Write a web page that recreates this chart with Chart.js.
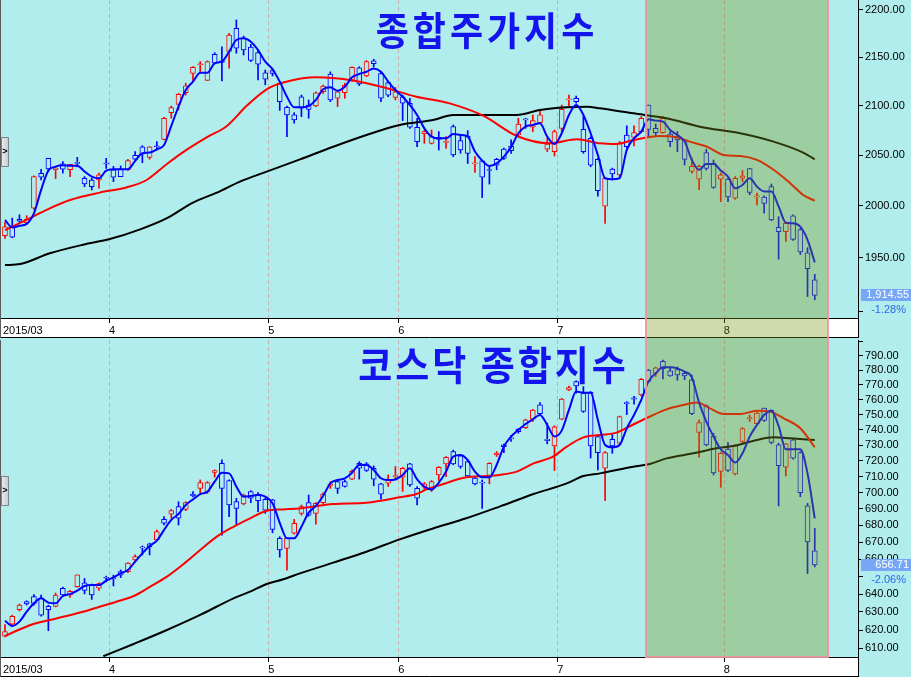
<!DOCTYPE html>
<html>
<head>
<meta charset="utf-8">
<script src="https://cdn.jsdelivr.net/npm/chart.js@4.4.1/dist/chart.umd.min.js"></script>
<style>
html, body { margin: 0; padding: 0; background: #b1eded; }
#wrap { position: relative; width: 911px; height: 680px; overflow: hidden; background: #b1eded; }
canvas { position: absolute; left: 0; }
#kospi { top: 0; }
#kosdaq { top: 340px; }
</style>
</head>
<body>
<div id="wrap">
  <canvas id="kospi" width="911" height="340"></canvas>
  <canvas id="kosdaq" width="911" height="340"></canvas>
</div>
<script>
// trading days from 2015/03 to 2015/08/20, one entry per day
const firstLabel = '2015/03'
const monthStart = [14, 36, 54, 76, 99]   // index of first trading day of each month
const monthLabels = ['4', '5', '6', '7', '8']
const highlightFrom = 88.66
const highlightTo = 113.83

// 종합주가지수 (KOSPI)
const kospiOpen = [1971,1979.5,1986.9,1983.6,1997.6,2031.9,2046.8,2035.3,2041.1,2035.3,
  2042.6,2026.9,2025.2,2025.2,2042.0,2035.3,2035.9,2035.3,2049.7,2058.3,
  2047.7,2059.3,2065.7,2092.7,2101.2,2113.1,2133.1,2142.1,2125.8,2152.9,
  2146.2,2156.0,2180.5,2169.7,2160.7,2154.7,2133.8,2135.9,2122.9,2098.2,
  2090.4,2109.0,2100.5,2099.5,2114.1,2132.3,2107.4,2113.1,2126.2,2138.9,
  2130.4,2146.1,2133.0,2123.6,2108.4,2109.0,2102.3,2077.9,2071.1,2061.7,
  2067.7,2062.7,2078.5,2064.4,2069.1,2041.0,2044.3,2035.5,2045.7,2055.8,
  2059.0,2070.1,2086.3,2077.9,2082.5,2055.8,2053.4,2076.8,2105.7,2107.4,
  2075.8,2066.7,2045.7,1999.6,2036.0,2030.3,2070.1,2067.7,2073.5,2100.5,
  2076.8,2072.5,2071.1,2068.4,2065.1,2033.6,2026.1,2052.4,2041.6,2026.1,
  2026.1,2007.4,2026.9,2036.6,2008.5,2008.5,2018.7,1979.1,1975.0,1990.3,
  1977.0,1954.7,1929.2]
const kospiHigh = [1984,1988,1991.2,1990.3,2029.2,2035.8,2046.8,2037.6,2043.4,2040.7,
  2047.7,2028.6,2026.9,2032.0,2046.7,2038.6,2039.1,2045.8,2053.4,2059.3,
  2058.3,2063.4,2088.0,2099.5,2112.4,2122.9,2140.3,2145.4,2146.1,2154.7,
  2160.8,2175.0,2189.3,2172.2,2163.5,2157.6,2136.6,2138.4,2124.7,2099.5,
  2092.7,2110.7,2105.6,2114.1,2120.9,2134.7,2114.1,2122.9,2140.0,2140.0,
  2146.5,2147.8,2134.7,2124.7,2118.5,2110.7,2107.3,2087.0,2075.1,2075.1,
  2073.5,2068.4,2080.2,2070.1,2074.5,2048.4,2045.0,2038.2,2046.7,2056.8,
  2065.1,2087.0,2087.0,2090.4,2095.4,2066.7,2075.1,2100.5,2110.7,2109.7,
  2088.7,2068.4,2046.7,2027.9,2037.0,2063.6,2079.3,2079.3,2088.7,2100.5,
  2081.2,2088.7,2073.5,2073.5,2065.7,2046.7,2040.0,2055.8,2045.0,2032.0,
  2026.9,2028.6,2034.6,2036.6,2012.3,2009.7,2021.3,1989.4,1983.0,1991.2,
  1978.0,1959.5,1934.3]
const kospiLow = [1968.5,1969,1982.9,1982.3,1996.5,2025.2,2033.6,2026.6,2032.0,2028.6,
  2038.2,2018.7,2015.4,2017.1,2036.6,2023.6,2028.6,2034.6,2043.3,2042.3,
  2045.8,2055.0,2065.0,2087.0,2095.5,2110.7,2124.7,2135.0,2125.8,2143.1,
  2125.4,2138.4,2154.1,2152.3,2145.4,2126.4,2121.3,2130.4,2095.0,2068.4,
  2082.0,2088.7,2087.0,2098.9,2112.4,2104.0,2099.0,2107.4,2124.7,2120.5,
  2129.7,2140.0,2104.0,2109.0,2105.7,2084.7,2076.8,2058.3,2061.7,2061.0,
  2055.0,2056.7,2048.4,2051.7,2041.6,2032.6,2008.0,2021.2,2035.3,2045.7,
  2051.7,2068.4,2076.8,2073.5,2081.9,2053.4,2049.0,2073.5,2099.0,2102.3,
  2051.7,2038.3,2009.2,1982.8,2025.2,2028.6,2056.8,2059.0,2072.5,2068.4,
  2068.4,2071.8,2058.3,2053.4,2040.0,2032.0,2015.7,2035.0,2017.0,2004.0,
  2004.0,2006.3,2023.6,2010.7,2000.7,1992.8,1985.5,1948.6,1965.6,1966.5,
  1953.0,1913.5,1910.5]
const kospiClose = [1979.5,1969.5,1984.9,1986.8,2028.6,2027.9,2036.2,2037.0,2035.9,2040.7,
  2041.6,2021.3,2018.7,2030.3,2041.0,2027.9,2028.6,2044.4,2045.8,2051.0,
  2058.3,2058.3,2087.0,2097.8,2111.4,2120.2,2139.3,2143.1,2145.4,2143.7,
  2144.5,2173.2,2159.4,2157.6,2146.5,2142.6,2127.0,2133.1,2104.0,2090.4,
  2085.3,2097.2,2096.1,2113.1,2119.9,2105.7,2114.1,2120.9,2139.3,2122.2,
  2145.4,2143.1,2107.4,2110.7,2114.1,2102.3,2077.9,2063.4,2073.5,2068.4,
  2065.7,2063.7,2050.0,2055.0,2051.7,2042.3,2027.9,2034.6,2040.0,2046.7,
  2054.3,2081.2,2085.3,2084.7,2090.4,2061.0,2073.5,2096.1,2106.7,2104.0,
  2053.4,2040.0,2014.7,2026.9,2031.3,2061.8,2058.3,2072.5,2087.0,2075.8,
  2072.5,2087.0,2063.4,2065.1,2045.7,2038.7,2038.7,2036.6,2018.0,2030.3,
  2008.5,2026.9,2029.3,2012.9,2009.7,2002.3,1986.1,1975.0,1983.0,1967.5,
  1955.4,1939.6,1914.55]
const kospiMa5 = [1986.2,1979.0,1980.5,1982.4,1992.6,2015.5,2034.5,2038.4,2039.7,2039.4,
  2039.4,2033.6,2028.6,2026.9,2034.5,2035.9,2035.9,2035.9,2044.1,2051.7,
  2052.4,2055.7,2060.0,2079.2,2098.9,2115.9,2124.6,2133.8,2133.8,2143.5,
  2145.3,2155.9,2168.1,2169.8,2166.3,2157.5,2145.3,2137.4,2124.6,2109.0,
  2098.1,2098.1,2099.4,2105.7,2116.6,2118.7,2115.2,2119.3,2129.0,2132.5,
  2134.8,2138.3,2134.8,2124.6,2115.9,2109.0,2100.5,2090.4,2076.8,2068.4,
  2066.7,2066.7,2071.1,2070.1,2068.4,2053.4,2044.4,2039.1,2041.7,2048.4,
  2057.7,2071.8,2078.5,2080.2,2081.9,2068.4,2061.0,2071.8,2090.4,2100.5,
  2090.4,2071.8,2050.0,2026.9,2025.9,2026.9,2055.1,2066.7,2073.5,2086.0,
  2084.6,2083.6,2075.1,2070.1,2063.4,2045.1,2035.3,2041.1,2041.1,2034.6,
  2028.6,2017.0,2020.3,2026.9,2018.7,2013.9,2013.9,1999.3,1983.6,1983.0,
  1979.7,1967.1,1945.6]
const kospiMa20At = [0,3.9,6.2,9,13.1,16.8,19.6,22.4,25.1,27.9,30.7,33.4,36.2,38.5,43.1,47.7,52.3,56.9,61.5,
  66.2,70.8,75.4,79.1,82.3,84.6,86.9,90.6,92.9,94.7,97.1,99.4,101.7,104,106.3,108.6,110.4,112]
const kospiMa20 = [1976.3,1989.5,1997.5,2005.6,2012.8,2017.9,2025.2,2041.1,2055.1,2067.7,2079.2,2099.5,2116.6,2123.6,
  2129.0,2126.2,2118.7,2109.0,2102.2,2089.4,2069.1,2061.7,2065.7,2061.7,2061.0,2065.0,2069.1,2067.7,2063.4,
  2058.3,2050.0,2049.0,2045.1,2035.3,2022.1,2010.5,2004.9]
const kospiMa60At = [0,2.1,6.2,10.8,14.5,18.7,22.4,26,29.3,32.5,36.2,40.8,45.4,50,54.6,59.2,62,66.2,70.8,
  74,77.7,80.5,82.3,86.9,91.5,96.1,101.7,106.3,110.4,112]
const kospiMa60 = [1943.0,1944.0,1954.2,1962.4,1967.8,1977.1,1987.9,2003.1,2012.8,2023.6,2033.5,2045.7,2058.3,
  2070.1,2080.2,2085.2,2090.4,2090.4,2090.4,2095.4,2098.1,2098.8,2097.1,2092.0,2087.0,2078.5,2071.8,2063.4,
  2052.4,2045.7]
const kospiTicks = [1900, 1950, 2000, 2050, 2100, 2150, 2200]
const kospiChange = -1.28

// 코스닥 종합지수 (KOSDAQ)
const kosdaqOpen = [616.6,623.2,631.3,635.7,638.6,637.7,633.1,633.1,643.3,639.5,
  644.2,646.4,645.1,643.3,649.6,649.3,652.8,652.8,659.6,667.2,
  669.0,671.4,683.7,686.8,691.4,689.7,699.1,702.6,700.6,712.6,
  718.4,707.5,694.4,693.0,700.6,699.1,695.9,695.5,672.3,666.3,
  675.3,687.3,693.8,687.3,693.8,704.4,706.8,706.8,708.4,718.4,
  718.0,715.2,705.4,705.8,710.0,709.6,718.0,702.6,703.3,701.6,
  711.0,718.0,725.8,723.1,719.4,709.0,706.5,709.6,723.9,730.1,
  734.6,740.2,741.4,746.9,756.4,733.8,729.5,746.9,766.4,772.1,
  764.3,764.8,735.5,715.2,733.8,731.2,758.0,761.1,763.0,780.0,
  777.8,786.1,779.5,780.4,777.8,773.3,738.2,755.8,735.9,713.2,
  727.4,711.6,732.3,747.2,743.9,754.2,752.7,730.2,715.9,733.4,
  725.2,691.8,664.9]
const kosdaqHigh = [623.0,628.2,634.4,636.2,639.7,639.5,633.8,640.6,643.9,642.1,
  650.9,648.9,645.7,646.4,650.2,650.8,653.8,658.1,662.5,667.8,
  669.4,677.3,685.3,689.7,694.4,694.4,700.6,707.9,706.8,714.2,
  720.5,707.9,696.5,699.1,701.2,700.0,696.5,695.9,673.3,672.3,
  683.7,692.4,698.5,693.8,699.9,706.8,707.9,707.9,714.2,719.4,
  718.8,716.7,705.8,711.0,716.3,715.8,718.4,703.8,706.3,707.5,
  716.3,722.6,726.8,723.7,720.5,709.6,707.9,718.8,725.8,730.7,
  736.4,740.8,746.9,753.4,757.9,744.3,742.6,760.8,769.1,772.7,
  768.7,765.4,736.5,725.8,737.6,749.0,758.6,762.2,774.3,780.4,
  782.1,787.0,782.1,782.1,778.9,776.6,746.5,756.4,737.6,725.2,
  731.7,730.2,741.4,749.7,751.4,754.2,753.1,731.2,731.2,734.4,
  725.8,693.4,678.2]
const kosdaqLow = [616.2,621.8,630.5,633.8,633.8,627.6,619.6,632.8,638.6,638.1,
  643.9,640.1,637.0,642.0,646.9,644.6,649.4,652.2,658.5,662.5,
  662.5,671.0,680.3,684.3,680.3,688.9,697.5,699.5,699.5,709.6,
  674.2,685.3,680.3,692.4,693.8,688.3,687.3,675.6,661.2,653.7,
  674.8,686.2,685.6,680.8,693.2,702.6,699.5,703.4,708.0,708.4,
  713.2,704.2,695.9,703.8,708.4,700.7,703.8,692.4,701.6,700.7,
  707.5,710.0,717.4,715.2,709.6,704.8,690.3,705.4,722.7,725.2,
  732.3,737.7,740.8,745.4,749.9,730.8,713.8,746.5,766.0,764.3,
  751.4,721.7,714.2,695.0,724.7,730.2,749.9,756.8,762.3,771.7,
  775.6,774.0,775.6,773.0,773.4,749.9,722.3,729.5,711.0,703.3,
  713.2,711.0,731.7,745.4,743.3,745.4,730.8,691.8,710.4,721.0,
  697.5,651.7,655.5]
const kosdaqClose = [619.1,627.6,633.8,634.4,634.8,628.2,631.3,639.5,639.5,641.5,
  650.9,642.0,639.5,646.0,649.0,648.7,650.8,657.7,661.5,666.6,
  667.4,676.3,681.3,688.9,684.3,693.8,697.9,706.2,706.2,713.8,
  702.6,692.4,690.3,698.5,696.5,695.0,689.3,677.6,665.4,672.3,
  681.3,691.4,686.2,693.4,699.1,705.2,702.6,703.8,713.2,715.2,
  713.8,708.4,699.1,707.9,710.6,715.2,704.8,696.5,705.4,706.8,
  715.8,722.2,718.0,716.3,710.4,705.4,705.8,718.4,724.7,729.0,
  734.0,738.7,746.5,753.0,750.6,732.9,741.8,760.2,768.1,769.1,
  752.0,729.5,725.2,725.2,729.5,748.6,757.1,760.2,773.7,772.3,
  781.6,781.0,776.0,776.7,776.0,750.6,744.7,730.1,712.2,724.7,
  713.8,729.5,740.8,748.0,751.0,746.0,731.7,716.8,730.8,721.6,
  700.0,670.2,656.71]
const kosdaqMa5 = [625.1,622.2,624.6,630.1,634.8,637.6,635.2,634.8,638.9,640.0,
  641.9,644.6,645.1,645.1,647.6,649.5,651.8,653.7,658.6,663.4,
  667.7,670.9,677.3,683.3,686.9,692.4,695.8,699.1,700.6,706.8,
  712.4,712.0,703.7,697.5,697.9,698.5,697.5,693.4,681.6,672.3,
  672.3,679.2,687.7,691.8,697.9,705.7,707.8,708.9,712.4,717.3,
  717.3,714.1,708.9,707.8,708.2,711.0,715.2,708.2,703.7,702.0,
  706.2,713.1,722.6,723.6,720.4,713.1,709.5,709.5,717.3,729.0,
  735.5,739.8,743.7,746.8,749.7,743.1,735.5,739.4,753.0,765.3,
  764.6,764.6,746.4,730.1,728.6,730.1,740.9,749.7,759.7,772.1,
  777.8,781.9,781.9,781.2,778.9,775.0,757.9,745.3,735.5,727.3,
  723.6,718.8,724.7,735.5,743.1,749.7,752.5,742.4,727.3,727.3,
  727.3,712.0,684.3]
const kosdaqMa20At = [0,2.1,3.9,6.2,8.5,10.8,13.1,15.4,17.8,20.1,22.4,24.7,27,29.3,31.6,33.9,36.2,38.5,40.8,
  45.4,50,54.6,56.9,58.3,60.2,63.8,66.6,68.4,70.8,73.1,75.8,77.7,80,82.3,84.6,86.9,88.7,91.5,93.8,95.7,
  97.5,99.4,101.7,104,105.8,107.7,110,112]
const kosdaqMa20 = [616.7,620.4,623.3,625.5,627.7,630.1,632.9,635.7,638.9,644.2,649.9,657.2,665.4,673.3,679.2,
  684.3,688.9,689.7,690.3,693.0,693.8,697.1,699.1,702.0,704.7,709.5,710.3,711.0,713.1,718.3,722.6,729.0,
  735.0,736.5,738.1,743.4,747.5,753.4,756.3,757.9,754.1,750.3,750.3,752.5,751.9,747.5,740.9,728.6]
const kosdaqMa60At = [13.6,17.8,22.4,27,31.6,33.9,36.2,38.5,40.8,45.4,50,54.6,59.2,63.8,68.4,73.1,77.7,80,
  82.3,86.9,89.2,91.5,95.2,98.4,100.7,104,106.3,108.6,112]
const kosdaqMa60 = [605.8,612.4,620.0,628.3,637.6,641.4,645.7,648.4,651.8,658.0,664.4,671.7,678.2,684.3,691.4,
  699.1,705.7,710.3,712.0,716.2,717.9,721.5,724.7,727.9,729.4,733.3,735.0,734.4,733.3]
const kosdaqTicks = [610, 620, 630, 640, 650, 660, 670, 680, 690, 700, 710, 720, 730, 740, 750, 760, 770, 780, 790, 800]
const kosdaqChange = -2.06

const BG = '#b1eded'
const UP = '#ff0000'
const DOWN = '#0000ff'
const FONT = 'Arial, "Liberation Sans", sans-serif'

function money(v) {
    return v.toLocaleString('en-US', {minimumFractionDigits: 2, maximumFractionDigits: 2})
}

function decor(o) {
    return {
        id: 'decor',
        beforeDraw(chart) {
            const {ctx, chartArea: a, width, height} = chart
            ctx.save()
            ctx.fillStyle = BG
            ctx.fillRect(0, 0, width, height)
            ctx.fillStyle = '#fff'
            ctx.fillRect(0, a.bottom, a.right, 19)
            if (o.whiteBelow) ctx.fillRect(0, a.bottom + 20, width, height - a.bottom - 20)
            ctx.restore()
        },
        beforeDatasetsDraw(chart) {
            const {ctx, chartArea: a, scales: {x}} = chart
            ctx.save()
            ctx.lineWidth = 1
            ctx.strokeStyle = '#c6b0b0'
            ctx.setLineDash([4, 3])
            monthStart.forEach(m => {
                const px = Math.round(x.getPixelForValue(m + 0.4)) + 0.5
                ctx.beginPath()
                ctx.moveTo(px, a.top)
                ctx.lineTo(px, a.bottom)
                ctx.stroke()
            })
            ctx.setLineDash([])
            ctx.strokeStyle = '#000'
            ctx.beginPath()
            monthStart.forEach(m => {
                const px = Math.round(x.getPixelForValue(m + 0.4)) + 0.5
                ctx.moveTo(px, a.bottom)
                ctx.lineTo(px, a.bottom + 5)
            })
            ctx.moveTo(0, a.bottom + 0.5)
            ctx.lineTo(a.right, a.bottom + 0.5)
            ctx.moveTo(0, a.bottom + 19.5)
            ctx.lineTo(a.right + 1, a.bottom + 19.5)
            ctx.moveTo(a.right + 0.5, a.bottom)
            ctx.lineTo(a.right + 0.5, a.bottom + 19.5)
            ctx.stroke()
            ctx.strokeStyle = '#5c5c5c'
            ctx.beginPath()
            ctx.moveTo(0.5, 0)
            ctx.lineTo(0.5, a.bottom + 20)
            ctx.stroke()
            ctx.restore()
        },
        afterDatasetsDraw(chart) {
            const {ctx, chartArea: a, scales: {x}, height} = chart
            const x0 = x.getPixelForValue(highlightFrom)
            const x1 = x.getPixelForValue(highlightTo)
            const bottom = o.shadeRow ? height : a.bottom
            ctx.save()
            ctx.fillStyle = 'rgba(120,150,20,0.35)'
            ctx.fillRect(x0, 0, x1 - x0, bottom)
            ctx.strokeStyle = 'rgba(240,150,160,0.9)'
            ctx.lineWidth = 2
            ctx.beginPath()
            ctx.moveTo(x0, 0)
            ctx.lineTo(x0, bottom)
            if (!o.shadeRow) ctx.lineTo(x1, bottom)
            else ctx.moveTo(x1, bottom)
            ctx.lineTo(x1, 0)
            ctx.stroke()

            ctx.fillStyle = '#1414ec'
            ctx.font = 'bold ' + o.titleSize + 'px "Noto Sans CJK KR"'
            ctx.letterSpacing = o.titleSpacing + 'px'
            ctx.textAlign = 'center'
            ctx.textBaseline = 'middle'
            ctx.translate(o.titleX + o.titleSpacing / 2, o.titleY)
            ctx.scale(1, 1.08)
            ctx.fillText(o.title, 0, 0)
            ctx.restore()
        },
        afterDraw(chart) {
            const {ctx, scales: {y}, width} = chart
            const yc = Math.round(y.getPixelForValue(o.last))
            ctx.save()
            ctx.fillStyle = '#78a6f6'
            ctx.fillRect(861, yc - 6, width - 861, 12)
            ctx.fillStyle = '#fff'
            ctx.font = '11px ' + FONT
            ctx.textAlign = 'right'
            ctx.textBaseline = 'middle'
            ctx.fillText(money(o.last), 909, yc)
            ctx.fillStyle = '#2a68ee'
            ctx.fillText(o.change.toFixed(2) + '%', 906, yc + 14.5)

            // collapse tab on the left edge
            const g = ctx.createLinearGradient(0, 0, 9, 0)
            g.addColorStop(0, '#f4f4f4')
            g.addColorStop(1, '#c4c8cc')
            ctx.fillStyle = g
            ctx.strokeStyle = '#7a8590'
            ctx.lineWidth = 1
            ctx.beginPath()
            ctx.rect(1.5, o.tabY + 0.5, 7, 29)
            ctx.fill()
            ctx.stroke()
            ctx.fillStyle = '#000'
            ctx.font = 'bold 9px ' + FONT
            ctx.textAlign = 'center'
            ctx.fillText('>', 5, o.tabY + 15)
            ctx.restore()
        }
    }
}

function drawPanel(id, d, o) {
    const idx = d.open.map((_, i) => i)
    const colors = d.close.map((c, i) => c >= d.open[i] ? UP : DOWN)
    const tickVals = [-0.28].concat(monthStart.map(m => m + 0.4))
    const tickText = [firstLabel].concat(monthLabels)

    new Chart(document.getElementById(id), {
        type: 'bar',
        data: {
            datasets: [{
                type: 'line',
                data: d.ma5.map((v, i) => ({x: i, y: v})),
                borderColor: '#0000ff',
                borderWidth: 2,
                pointRadius: 0,
                cubicInterpolationMode: 'monotone',
                order: 1
            }, {
                type: 'line',
                data: d.ma20At.map((v, k) => ({x: v, y: d.ma20[k]})),
                borderColor: '#ff0000',
                borderWidth: 2,
                pointRadius: 0,
                cubicInterpolationMode: 'monotone',
                order: 2
            }, {
                type: 'line',
                data: d.ma60At.map((v, k) => ({x: v, y: d.ma60[k]})),
                borderColor: '#000000',
                borderWidth: 2,
                pointRadius: 0,
                cubicInterpolationMode: 'monotone',
                order: 3
            }, {
                // bodies, hollow
                data: idx.map(i => ({x: i, y: [d.open[i], d.close[i]]})),
                backgroundColor: BG,
                borderColor: colors,
                borderWidth: 1,
                borderSkipped: false,
                barThickness: 5,
                minBarLength: 1,
                grouped: false,
                order: 4
            }, {
                // wicks
                data: idx.map(i => ({x: i, y: [d.low[i], d.high[i]]})),
                backgroundColor: colors,
                borderWidth: 0,
                barThickness: 1,
                grouped: false,
                order: 5
            }]
        },
        options: {
            responsive: false,
            animation: false,
            events: [],
            devicePixelRatio: 1,
            layout: {padding: {left: 0, top: 0, right: 0, bottom: o.padBottom}},
            plugins: {legend: {display: false}, tooltip: {enabled: false}},
            scales: {
                x: {
                    type: 'linear',
                    min: -0.69,
                    max: 117.98,
                    offset: false,
                    grid: {display: false, drawTicks: false},
                    border: {display: false},
                    ticks: {
                        autoSkip: false,
                        maxRotation: 0,
                        align: 'start',
                        padding: 6,
                        color: '#000',
                        font: {family: FONT, size: 11},
                        callback: (v, i) => tickText[i]
                    },
                    afterBuildTicks: s => { s.ticks = tickVals.map(v => ({value: v})) },
                    afterFit: s => { s.height = 20; s.paddingLeft = 0; s.paddingRight = 0 }
                },
                y: {
                    type: 'logarithmic',
                    position: 'right',
                    min: o.min,
                    max: o.max,
                    grid: {drawOnChartArea: false, drawTicks: true, tickLength: 5, tickColor: '#000', color: '#000'},
                    border: {display: true, color: '#000', width: 1},
                    ticks: {
                        autoSkip: false,
                        padding: 2,
                        color: '#000',
                        font: {family: FONT, size: 11},
                        callback: v => o.hide.includes(v) ? '' : v.toFixed(2)
                    },
                    afterBuildTicks: s => { s.ticks = d.ticks.map(v => ({value: v})) },
                    afterFit: s => { s.width = 53; s.paddingTop = 0; s.paddingBottom = 0 }
                }
            }
        },
        plugins: [decor(o)]
    })
}

drawPanel('kospi', {
    open: kospiOpen, high: kospiHigh, low: kospiLow, close: kospiClose,
    ma5: kospiMa5, ma20At: kospiMa20At, ma20: kospiMa20, ma60At: kospiMa60At, ma60: kospiMa60,
    ticks: kospiTicks
}, {
    min: 1893.6, max: 2210.7, hide: [1900], padBottom: 2,
    title: '종합주가지수', titleSize: 36, titleSpacing: 4, titleX: 485, titleY: 30,
    last: kospiClose[kospiClose.length - 1], change: kospiChange,
    tabY: 137, shadeRow: true, whiteBelow: false
})

drawPanel('kosdaq', {
    open: kosdaqOpen, high: kosdaqHigh, low: kosdaqLow, close: kosdaqClose,
    ma5: kosdaqMa5, ma20At: kosdaqMa20At, ma20: kosdaqMa20, ma60At: kosdaqMa60At, ma60: kosdaqMa60,
    ticks: kosdaqTicks
}, {
    min: 605.4, max: 801.0, hide: [650, 800], padBottom: 3,
    title: '코스닥 종합지수', titleSize: 37, titleSpacing: 3, titleX: 492, titleY: 25,
    last: kosdaqClose[kosdaqClose.length - 1], change: kosdaqChange,
    tabY: 136, shadeRow: false, whiteBelow: true
})
</script>
</body>
</html>
